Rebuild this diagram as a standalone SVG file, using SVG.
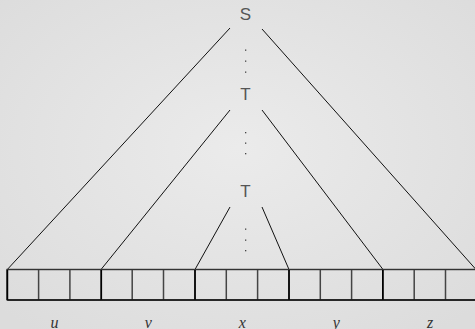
<svg xmlns="http://www.w3.org/2000/svg" width="475" height="329" viewBox="0 0 475 329">
<defs>
<radialGradient id="bg" cx="50%" cy="45%" r="70%">
<stop offset="0" stop-color="#ebebeb"/>
<stop offset="1" stop-color="#dcdcdc"/>
</radialGradient>
<style>
.lbl{font-family:"Liberation Sans Narrow","Liberation Sans","DejaVu Sans",sans-serif;font-size:17px;fill:#555;text-anchor:middle}
.m{font-family:"Liberation Serif","DejaVu Serif",serif;font-style:italic;font-size:16px;fill:#333;text-anchor:middle}
.e{stroke:#111;stroke-width:1;fill:none}
.cell{fill:none;stroke:#444;stroke-width:1.5}
.grp{stroke:#000;stroke-width:1.8}
.dot{fill:#444}
</style>
</defs>
<rect width="475" height="329" fill="url(#bg)"/>
<g id="S"><text class="lbl" x="245.5" y="20">S</text></g>
<g id="dots1"><rect class="dot" x="245" y="49.5" width="1.3" height="1.3"/><rect class="dot" x="245" y="60.5" width="1.3" height="1.3"/><rect class="dot" x="245" y="71.5" width="1.3" height="1.3"/></g>
<g id="T1"><text class="lbl" x="245.5" y="100">T</text></g>
<g id="dots2"><rect class="dot" x="245" y="132" width="1.3" height="1.3"/><rect class="dot" x="245" y="142.5" width="1.3" height="1.3"/><rect class="dot" x="245" y="153" width="1.3" height="1.3"/></g>
<g id="T2"><text class="lbl" x="245.5" y="197">T</text></g>
<g id="dots3"><rect class="dot" x="245" y="228.5" width="1.3" height="1.3"/><rect class="dot" x="245" y="239.5" width="1.3" height="1.3"/><rect class="dot" x="245" y="250" width="1.3" height="1.3"/></g>
<g id="connectors">
<line class="e" x1="230" y1="28" x2="7.3" y2="269.5"/>
<line class="e" x1="262" y1="29" x2="476" y2="269.5"/>
<line class="e" x1="230" y1="110" x2="101" y2="269.5"/>
<line class="e" x1="262" y1="110" x2="383" y2="269.5"/>
<line class="e" x1="230" y1="207" x2="195" y2="269.5"/>
<line class="e" x1="262" y1="207" x2="289" y2="269.5"/>
</g>
<g id="tape">
<rect class="cell" x="7.3" y="269.5" width="469.7" height="30.5"/>
<path class="cell" d="M38.6 269.5V300M69.9 269.5V300M132.2 269.5V300M163.5 269.5V300M226.3 269.5V300M257.6 269.5V300M320.3 269.5V300M351.6 269.5V300M414.2 269.5V300M445.5 269.5V300"/>
<path class="cell grp" d="M7.3 269.5V300M101.2 269.5V300M195 269.5V300M289 269.5V300M382.9 269.5V300"/>
<line x1="7.3" y1="269.5" x2="477" y2="269.5" stroke="#333" stroke-width="1.2"/>
<line x1="7.3" y1="300" x2="477" y2="300" stroke="#111" stroke-width="1.5"/>
</g>
<g id="labels">
<text class="m" x="54.5" y="327.5">u</text>
<text class="m" x="148.2" y="327.5">v</text>
<text class="m" x="242.2" y="327.5">x</text>
<text class="m" x="336.2" y="327.5">y</text>
<text class="m" x="430" y="327.5">z</text>
</g>
</svg>
